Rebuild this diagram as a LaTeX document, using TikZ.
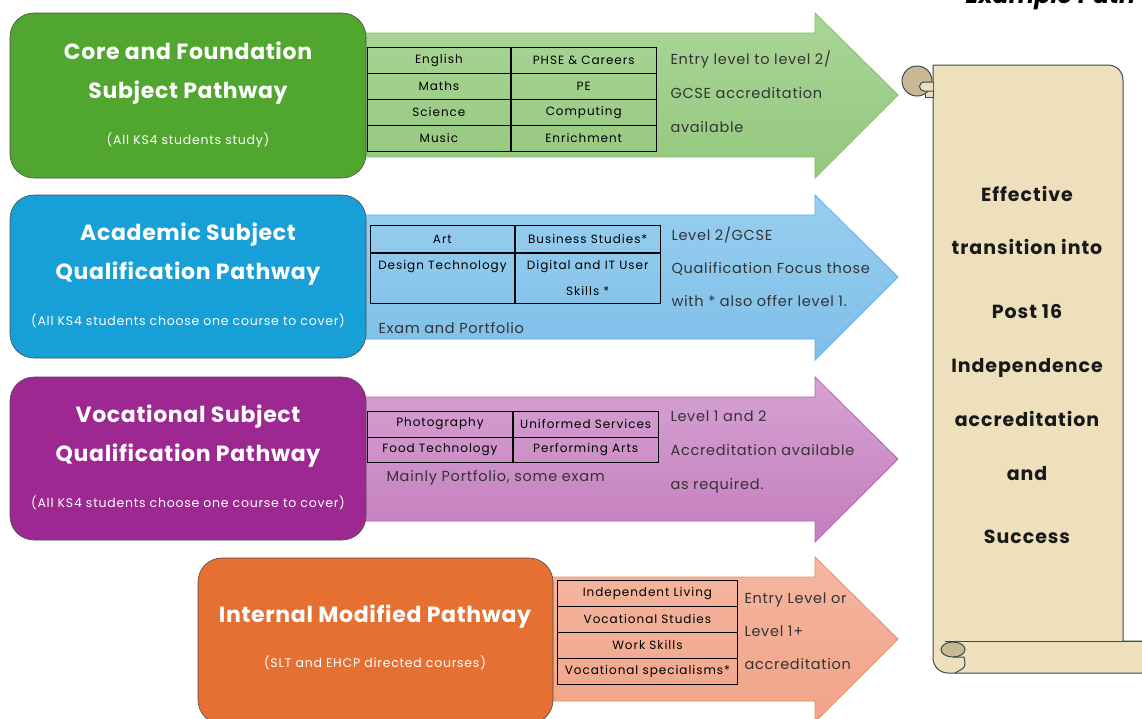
\documentclass[tikz,border=0pt]{standalone}
\usepackage{fontspec}
\setmainfont{Poppins}

\definecolor{coreGreen}{RGB}{80,166,46}
\definecolor{acadBlue}{RGB}{22,160,215}
\definecolor{vocPurple}{RGB}{158,40,145}
\definecolor{intOrange}{RGB}{230,112,50}
\definecolor{greenTop}{RGB}{170,213,152}
\definecolor{greenBot}{RGB}{148,200,126}
\definecolor{greenEdge}{RGB}{128,194,100}
\definecolor{blueTop}{RGB}{152,206,240}
\definecolor{blueBot}{RGB}{126,191,232}
\definecolor{blueEdge}{RGB}{88,180,226}
\definecolor{purpleTop}{RGB}{214,162,210}
\definecolor{purpleBot}{RGB}{196,126,190}
\definecolor{purpleEdge}{RGB}{182,100,176}
\definecolor{orangeTop}{RGB}{245,182,160}
\definecolor{orangeBot}{RGB}{240,164,136}
\definecolor{orangeEdge}{RGB}{236,140,96}
\definecolor{parchment}{RGB}{238,224,188}
\definecolor{curlTan}{RGB}{200,184,148}
\definecolor{scrollEdge}{RGB}{55,75,85}

\tikzset{
  pathbox/.style={rounded corners=24pt, draw=black!70, line width=0.6pt},
  title/.style={anchor=base, text=white, font=\bfseries\fontsize{22}{24}\selectfont\addfontfeatures{LetterSpace=3}},
  subtitle/.style={anchor=base, text=white, font=\fontsize{12.5}{14}\selectfont\addfontfeatures{LetterSpace=6}},
  cell/.style={draw=black, line width=0.8pt, inner sep=0pt, anchor=north west,
    minimum height=26pt, font=\fontsize{12}{26}\selectfont\addfontfeatures{LetterSpace=8}, align=center},
  note/.style={anchor=base west, text=black!80, font=\fontsize{14.5}{16}\selectfont\addfontfeatures{LetterSpace=5}},
  scrolltext/.style={anchor=base, text=black!90, font=\bfseries\fontsize{19}{21}\selectfont\addfontfeatures{LetterSpace=5}}
}

% arrow: start x, head top y, top colour, bottom colour, edge colour
\newcommand{\pathArrow}[5]{
  \draw[draw=#5, line width=0.8pt, top color=#3, bottom color=#4]
    (#1,#2+20) -- (815,#2+20) -- (815,#2) -- (898,#2+82) -- (815,#2+165)
    -- (815,#2+144) -- (#1,#2+144) -- cycle;}

\begin{document}
\begin{tikzpicture}[x=1pt,y=-1pt]
\clip (0,0) rectangle (1142,718);
\fill[white] (0,0) rectangle (1142,718);

% arrows
\pathArrow{340}{13}{greenTop}{greenBot}{greenEdge}
\pathArrow{340}{195}{blueTop}{blueBot}{blueEdge}
\pathArrow{340}{377}{purpleTop}{purpleBot}{purpleEdge}
\pathArrow{530}{557}{orangeTop}{orangeBot}{orangeEdge}

% pathway boxes
\draw[pathbox, fill=coreGreen] (10,13) rectangle (366,178);
\draw[pathbox, fill=acadBlue] (10,195) rectangle (366,358);
\draw[pathbox, fill=vocPurple] (10,377) rectangle (366,540);
\draw[pathbox, fill=intOrange] (198,558) rectangle (553,724);

\node[title] (core-a) at (188,59) {Core and Foundation};
\node[title] (core-b) at (188,98) {Subject Pathway};
\node[subtitle] (core-c) at (188,144) {(All KS4 students study)};
\node[title] (acad-a) at (188,240) {Academic Subject};
\node[title] (acad-b) at (188,279) {Qualification Pathway};
\node[subtitle] (acad-c) at (188,325) {(All KS4 students choose one course to cover)};
\node[title] (voc-a) at (188,422) {Vocational Subject};
\node[title] (voc-b) at (188,461) {Qualification Pathway};
\node[subtitle] (voc-c) at (188,507) {(All KS4 students choose one course to cover)};
\node[title] (int-a) at (375,622) {Internal Modified Pathway};
\node[subtitle] (int-c) at (375,667) {(SLT and EHCP directed courses)};

% subject tables
\foreach \a/\b [count=\i] in {English/PHSE \& Careers, Maths/PE, Science/Computing, Music/Enrichment}{
  \node[cell, minimum width=143pt] (core-\i-a) at (367,47+26*\i-26) {\a};
  \node[cell, minimum width=145pt] (core-\i-b) at (core-\i-a.north east) {\b};
}
\node[cell, minimum width=144pt, minimum height=27pt] (acad-1-a) at (370,225) {Art};
\node[cell, minimum width=145pt, minimum height=27pt] (acad-1-b) at (acad-1-a.north east) {Business Studies*};
\node[cell, minimum width=144pt, minimum height=50pt] (acad-2-a) at (acad-1-a.south west) {Design Technology\\\mbox{}};
\node[cell, minimum width=145pt, minimum height=50pt] (acad-2-b) at (acad-2-a.north east) {Digital and IT User\\Skills *};
\foreach \a/\b [count=\i] in {Photography/Uniformed Services, Food Technology/Performing Arts}{
  \node[cell, minimum width=145pt, minimum height=25.5pt] (voc-\i-a) at (367,411+25.5*\i-25.5) {\a};
  \node[cell, minimum width=145pt, minimum height=25.5pt] (voc-\i-b) at (voc-\i-a.north east) {\b};
}
\foreach \a [count=\i] in {Independent Living, Vocational Studies, Work Skills, Vocational specialisms*}
  \node[cell, minimum width=180pt] (int-\i) at (557,580+26*\i-26) {\a};

\node[note] (acad-exam) at (375,333) {Exam and Portfolio};
\node[note] (voc-exam) at (383,481) {Mainly Portfolio, some exam};

% notes beside tables
\foreach \t [count=\i] in {Entry level to level 2/, GCSE accreditation, available}
  \node[note] (core-note-\i) at (667,30+34*\i) {\t};
\foreach \t [count=\i] in {Level 2/GCSE, Qualification Focus those, with * also offer level 1.}
  \node[note] (acad-note-\i) at (668,207+33*\i) {\t};
\foreach \t [count=\i] in {Level 1 and 2, Accreditation available, as required.}
  \node[note] (voc-note-\i) at (667,387+34*\i) {\t};
\foreach \t [count=\i] in {Entry Level or, Level 1+, accreditation}
  \node[note] (int-note-\i) at (741,570+33*\i) {\t};

% scroll
\draw[scrollEdge, line width=1pt, fill=parchment]
  (933,65) -- (1108,65) arc (-90:0:15) -- (1123,641) -- (1150,641) -- (1150,673)
  -- (948,673) arc (90:180:15) -- cycle;
\draw[scrollEdge, line width=1pt] (945,641) -- (1150,641);
\draw[scrollEdge, line width=1pt, fill=parchment] (925,82) rectangle (933,97);
\draw[scrollEdge, line width=1pt, fill=curlTan] (917,81) circle (15);
\draw[scrollEdge, line width=1pt, fill=parchment] (933,82) -- (924,82) arc (-90:-270:4.5) -- (933,91);
\draw[scrollEdge, line width=1pt, fill=curlTan] (953,649.5) ellipse (12 and 7.5);
\draw[scrollEdge, line width=1pt] (953,657) -- (964,657) .. controls (966,667) .. (955,673);
\foreach \t/\y [count=\i] in {Effective/201, transition into/254, Post 16/318, Independence/372, accreditation/426, and/480, Success/543}
  \node[scrolltext] (goal-\i) at (1027,\y) {\t};

\node[anchor=base west, font=\bfseries\itshape\fontsize{24}{26}\selectfont] (heading) at (962,3) {Example Path};
\end{tikzpicture}
\end{document}
